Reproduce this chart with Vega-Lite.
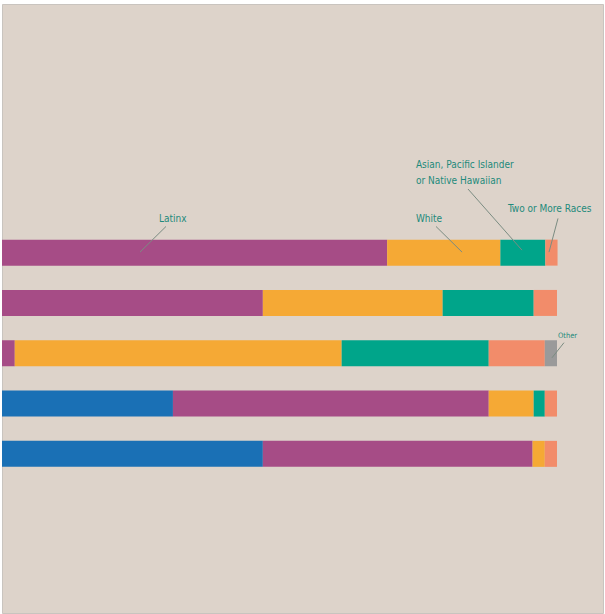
{
  "$schema": "https://vega.github.io/schema/vega-lite/v6.json",
  "width": 601,
  "height": 609,
  "autosize": {"type": "none"},
  "padding": {"left": 2, "top": 4, "right": 2, "bottom": 1},
  "background": "#ffffff",
  "config": {"view": {"fill": "#ddd3ca", "stroke": "#c9c4bf", "strokeWidth": 1}},
  "datasets": {
    "bars": [
      {"row": 1, "group": "Latinx", "ord": 1, "pct": 69.4},
      {"row": 1, "group": "White", "ord": 2, "pct": 20.4},
      {"row": 1, "group": "Asian, Pacific Islander or Native Hawaiian", "ord": 3, "pct": 8.1},
      {"row": 1, "group": "Two or More Races", "ord": 4, "pct": 2.2},
      {"row": 2, "group": "Latinx", "ord": 1, "pct": 47.0},
      {"row": 2, "group": "White", "ord": 2, "pct": 32.4},
      {"row": 2, "group": "Asian, Pacific Islander or Native Hawaiian", "ord": 3, "pct": 16.4},
      {"row": 2, "group": "Two or More Races", "ord": 4, "pct": 4.2},
      {"row": 3, "group": "Latinx", "ord": 1, "pct": 2.3},
      {"row": 3, "group": "White", "ord": 2, "pct": 58.9},
      {"row": 3, "group": "Asian, Pacific Islander or Native Hawaiian", "ord": 3, "pct": 26.5},
      {"row": 3, "group": "Two or More Races", "ord": 4, "pct": 10.1},
      {"row": 3, "group": "Other", "ord": 5, "pct": 2.2},
      {"row": 4, "group": "Black", "ord": 0, "pct": 30.8},
      {"row": 4, "group": "Latinx", "ord": 1, "pct": 56.9},
      {"row": 4, "group": "White", "ord": 2, "pct": 8.1},
      {"row": 4, "group": "Asian, Pacific Islander or Native Hawaiian", "ord": 3, "pct": 2.0},
      {"row": 4, "group": "Two or More Races", "ord": 4, "pct": 2.2},
      {"row": 5, "group": "Black", "ord": 0, "pct": 47.0},
      {"row": 5, "group": "Latinx", "ord": 1, "pct": 48.6},
      {"row": 5, "group": "White", "ord": 2, "pct": 2.2},
      {"row": 5, "group": "Two or More Races", "ord": 4, "pct": 2.2}
    ],
    "leaders": [
      {"x": 29.55, "y": 0.48, "x2": 24.86, "y2": 0.99},
      {"x": 78.2, "y": 0.48, "x2": 82.9, "y2": 0.99},
      {"x": 83.96, "y": -0.265, "x2": 93.69, "y2": 0.95},
      {"x": 100.18, "y": 0.32, "x2": 98.56, "y2": 0.99},
      {"x": 101.26, "y": 2.79, "x2": 99.1, "y2": 3.09}
    ],
    "labels": [
      {"x": 28.29, "y": 0.324, "text": "Latinx"},
      {"x": 74.59, "y": 0.333, "text": "White"},
      {"x": 74.59, "y": -0.735, "text": "Asian, Pacific Islander"},
      {"x": 74.59, "y": -0.422, "text": "or Native Hawaiian"},
      {"x": 91.17, "y": 0.137, "text": "Two or More Races"}
    ],
    "small": [
      {"x": 100.18, "y": 2.667, "text": "Other"}
    ]
  },
  "layer": [
    {
      "data": {"name": "bars"},
      "transform": [
        {"stack": "pct", "groupby": ["row"], "sort": [{"field": "ord"}], "as": ["x0", "x1"]}
      ],
      "mark": {"type": "bar", "height": 26, "orient": "horizontal"},
      "encoding": {
        "x": {"field": "x0", "type": "quantitative", "scale": {"domain": [0, 108.29], "nice": false, "zero": false}, "axis": null},
        "x2": {"field": "x1"},
        "y": {"field": "row", "type": "quantitative", "scale": {"domain": [-3.843, 8.064], "reverse": true, "nice": false, "zero": false}, "axis": null},
        "color": {
          "field": "group", "type": "nominal", "legend": null,
          "scale": {
            "domain": ["Black", "Latinx", "White", "Asian, Pacific Islander or Native Hawaiian", "Two or More Races", "Other"],
            "range": ["#1a70b5", "#a64c86", "#f5a935", "#00a58a", "#f28c6a", "#9a9a9a"]
          }
        }
      }
    },
    {
      "data": {"name": "leaders"},
      "mark": {"type": "rule", "color": "#7b8c82", "strokeWidth": 1},
      "encoding": {
        "x": {"field": "x", "type": "quantitative"},
        "y": {"field": "y", "type": "quantitative"},
        "x2": {"field": "x2"},
        "y2": {"field": "y2"}
      }
    },
    {
      "data": {"name": "labels"},
      "mark": {"type": "text", "align": "left", "baseline": "middle", "font": "DejaVu Sans Condensed, DejaVu Sans, sans-serif", "fontSize": 10, "color": "#1e8a7b"},
      "encoding": {
        "x": {"field": "x", "type": "quantitative"},
        "y": {"field": "y", "type": "quantitative"},
        "text": {"field": "text"}
      }
    },
    {
      "data": {"name": "small"},
      "mark": {"type": "text", "align": "left", "baseline": "middle", "font": "DejaVu Sans Condensed, DejaVu Sans, sans-serif", "fontSize": 7.5, "color": "#1e8a7b"},
      "encoding": {
        "x": {"field": "x", "type": "quantitative"},
        "y": {"field": "y", "type": "quantitative"},
        "text": {"field": "text"}
      }
    }
  ]
}
